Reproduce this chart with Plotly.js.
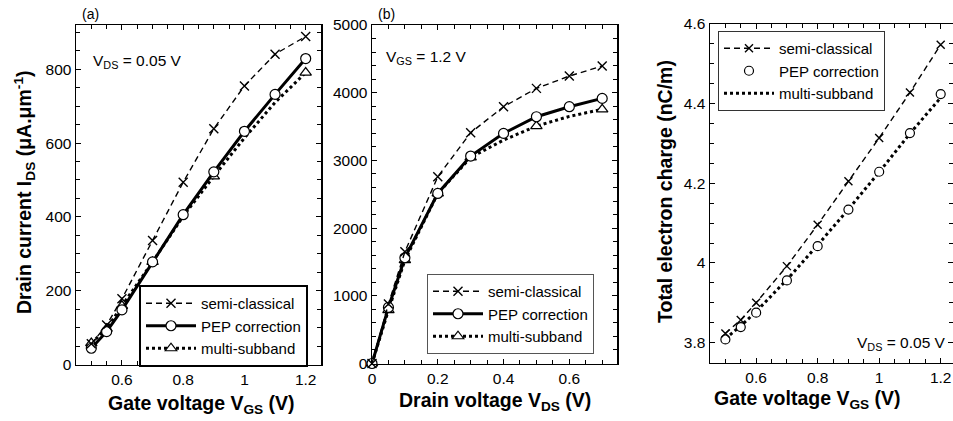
<!DOCTYPE html>
<html>
<head>
<meta charset="utf-8">
<script src="https://cdn.plot.ly/plotly-3.0.1.min.js"></script>
<style>html,body{margin:0;padding:0;background:#fff;}#chart{width:953px;height:421px;}</style>
</head>
<body>
<div id="chart"></div>
<script>
// ---- data ----
// Panel (a): drain current vs gate voltage, V_DS = 0.05 V
const vgsA = [0.5, 0.55, 0.6, 0.7, 0.8, 0.9, 1.0, 1.1, 1.2];
const semiA = [56, 107, 178, 336, 494, 639, 755, 841, 889];
const pepA = [44, 89, 148, 278, 406, 522, 632, 732, 829];
const multiA = [58, 97, 159, 278, 402, 510, 614, 710, 791];

// Panel (b): drain current vs drain voltage, V_GS = 1.2 V
const vdsB = [0, 0.05, 0.1, 0.2, 0.3, 0.4, 0.5, 0.6, 0.7];
const semiB = [0, 880, 1650, 2759, 3409, 3793, 4064, 4246, 4394];
const pepB = [0, 828, 1562, 2512, 3064, 3399, 3645, 3793, 3916];
const multiB = [0, 788, 1527, 2512, 3044, 3300, 3507, 3650, 3754];

// Panel (c): total electron charge vs gate voltage, V_DS = 0.05 V
const vgsC = [0.5, 0.55, 0.6, 0.7, 0.8, 0.9, 1.0, 1.1, 1.2];
const semiC = [3.823, 3.857, 3.900, 3.992, 4.096, 4.205, 4.314, 4.428, 4.548];
const pepC = [3.808, 3.839, 3.875, 3.956, 4.042, 4.134, 4.229, 4.326, 4.424];
const multiC = [3.81, 3.842, 3.878, 3.958, 4.045, 4.135, 4.228, 4.325, 4.415];

const seriesNames = ['semi-classical', 'PEP correction', 'multi-subband'];

// ---- helpers ----
const W = 953, H = 421;
const px = x => x / W;
const py = y => 1 - y / H;
const FONT = 'Liberation Sans, Arial, sans-serif';
const CLEAR = 'rgba(0,0,0,0)';

const semiStyle = {
  mode: 'lines+markers',
  line: {color: 'black', width: 1.4, dash: '6px,4px'},
  marker: {symbol: 'x-thin-open', size: 9, color: 'black', line: {color: 'black', width: 1.4}}
};
const pepStyle = {
  mode: 'lines+markers',
  line: {color: 'black', width: 3},
  marker: {symbol: 'circle', size: 10, color: 'white', line: {color: 'black', width: 1.2}}
};
const multiStyle = {
  mode: 'lines+markers',
  line: {color: 'black', width: 3, dash: 'dot'},
  marker: {symbol: 'triangle-up', size: 10, color: 'white', line: {color: 'black', width: 1.2}}
};

function tr(x, y, name, style, xa, ya, leg, rank) {
  return Object.assign({
    type: 'scatter', x: x, y: y, name: name, xaxis: xa, yaxis: ya,
    legend: leg, legendrank: rank, cliponaxis: false
  }, JSON.parse(JSON.stringify(style)));
}
// hide the triangles that sit under the circles in the original figure
function hideMarkers(t, shown) {
  t.marker.color = shown.map(s => s ? 'white' : CLEAR);
  t.marker.line.color = shown.map(s => s ? 'black' : CLEAR);
  return t;
}

const traces = [
  // panel a
  hideMarkers(tr(vgsA, multiA, seriesNames[2], multiStyle, 'x', 'y', 'legend', 3),
              [1, 1, 1, 1, 0, 1, 0, 0, 1]),
  tr(vgsA, pepA, seriesNames[1], pepStyle, 'x', 'y', 'legend', 2),
  tr(vgsA, semiA, seriesNames[0], semiStyle, 'x', 'y', 'legend', 1),
  // panel b
  hideMarkers(tr(vdsB, multiB, seriesNames[2], multiStyle, 'x2', 'y2', 'legend2', 3),
              [1, 1, 1, 1, 1, 0, 1, 0, 1]),
  tr(vdsB, pepB, seriesNames[1], pepStyle, 'x2', 'y2', 'legend2', 2),
  tr(vdsB, semiB, seriesNames[0], semiStyle, 'x2', 'y2', 'legend2', 1),
  // panel c
  (() => { const t = tr(vgsC, multiC, seriesNames[2], multiStyle, 'x3', 'y3', 'legend3', 3);
           t.mode = 'lines'; return t; })(),
  (() => { const t = tr(vgsC, pepC, seriesNames[1], pepStyle, 'x3', 'y3', 'legend3', 2);
           t.mode = 'markers'; t.marker.size = 9; return t; })(),
  (() => { const t = tr(vgsC, semiC, seriesNames[0], semiStyle, 'x3', 'y3', 'legend3', 1);
           t.marker.size = 8; return t; })()
];

function axis(d0, d1, range, dtick, minorDtick, anchor, isY) {
  return {
    domain: isY ? [py(d1), py(d0)] : [px(d0), px(d1)],
    range: range, anchor: anchor, tick0: 0, dtick: dtick,
    ticks: 'inside', ticklen: 5, tickwidth: 1, tickcolor: 'black',
    minor: {dtick: minorDtick, ticks: 'inside', ticklen: 4, tickwidth: 1, tickcolor: 'black', showgrid: false},
    showline: true, linecolor: 'black', linewidth: 1.5, mirror: 'ticks',
    showgrid: false, zeroline: false, fixedrange: true,
    tickfont: {family: FONT, size: 15.5, color: 'black'}
  };
}

const legendBase = (x, y, bw, bc) => ({
  x: px(x), y: py(y), xanchor: 'left', yanchor: 'top',
  bgcolor: 'white', bordercolor: bc, borderwidth: bw,
  font: {family: FONT, size: 15, color: 'black'},
  itemwidth: 50, traceorder: 'normal', tracegroupgap: 0
});

function ann(text, x, y, opts) {
  return Object.assign({
    text: text, x: px(x), y: py(y), xref: 'paper', yref: 'paper',
    showarrow: false, xanchor: 'center', yanchor: 'middle',
    font: {family: FONT, size: 15.5, color: 'black'}
  }, opts || {});
}
const titleFont = {family: FONT, size: 19.5, color: 'black', weight: 'bold'};

const layout = {
  width: W, height: H,
  margin: {l: 0, r: 0, t: 0, b: 0},
  paper_bgcolor: 'white', plot_bgcolor: 'white',
  showlegend: true,
  xaxis: axis(76, 321, [0.45, 1.25], 0.2, 0.05, 'y', false),
  yaxis: axis(25, 364.5, [0, 920], 200, 50, 'x', true),
  xaxis2: axis(372, 617, [0, 0.745], 0.2, 0.05, 'y2', false),
  yaxis2: axis(25, 363.5, [0, 5000], 1000, 200, 'x2', true),
  xaxis3: axis(710, 953, [0.45, 1.24], 0.2, 0.05, 'y3', false),
  yaxis3: axis(24, 362.5, [3.75, 4.6], 0.2, 0.05, 'x3', true),
  legend: legendBase(139, 285, 2, 'black'),
  legend2: legendBase(427, 274, 1, '#555'),
  legend3: legendBase(718, 31, 1, '#333'),
  annotations: [
    ann('(a)', 90, 14, {font: {family: FONT, size: 14, color: 'black'}}),
    ann('(b)', 386, 14, {font: {family: FONT, size: 14, color: 'black'}}),
    ann('V<sub>DS</sub> = 0.05 V', 91, 61, {xanchor: 'left'}),
    ann('V<sub>GS</sub> = 1.2 V', 384, 57, {xanchor: 'left'}),
    ann('V<sub>DS</sub> = 0.05 V', 948, 343, {xanchor: 'right'}),
    ann('Drain current I<sub>DS</sub> (μA.μm<sup>-1</sup>)', 25, 192, {textangle: -90, font: titleFont}),
    ann('Gate voltage V<sub>GS</sub> (V)', 201, 404, {font: titleFont}),
    ann('Drain voltage V<sub>DS</sub> (V)', 495, 401, {font: titleFont}),
    ann('Gate voltage V<sub>GS</sub> (V)', 807, 399, {font: titleFont}),
    ann('Total electron charge (nC/m)', 665, 192, {textangle: -90, font: titleFont})
  ]
};

Plotly.newPlot('chart', traces, layout, {staticPlot: true, displayModeBar: false});
</script>
</body>
</html>
